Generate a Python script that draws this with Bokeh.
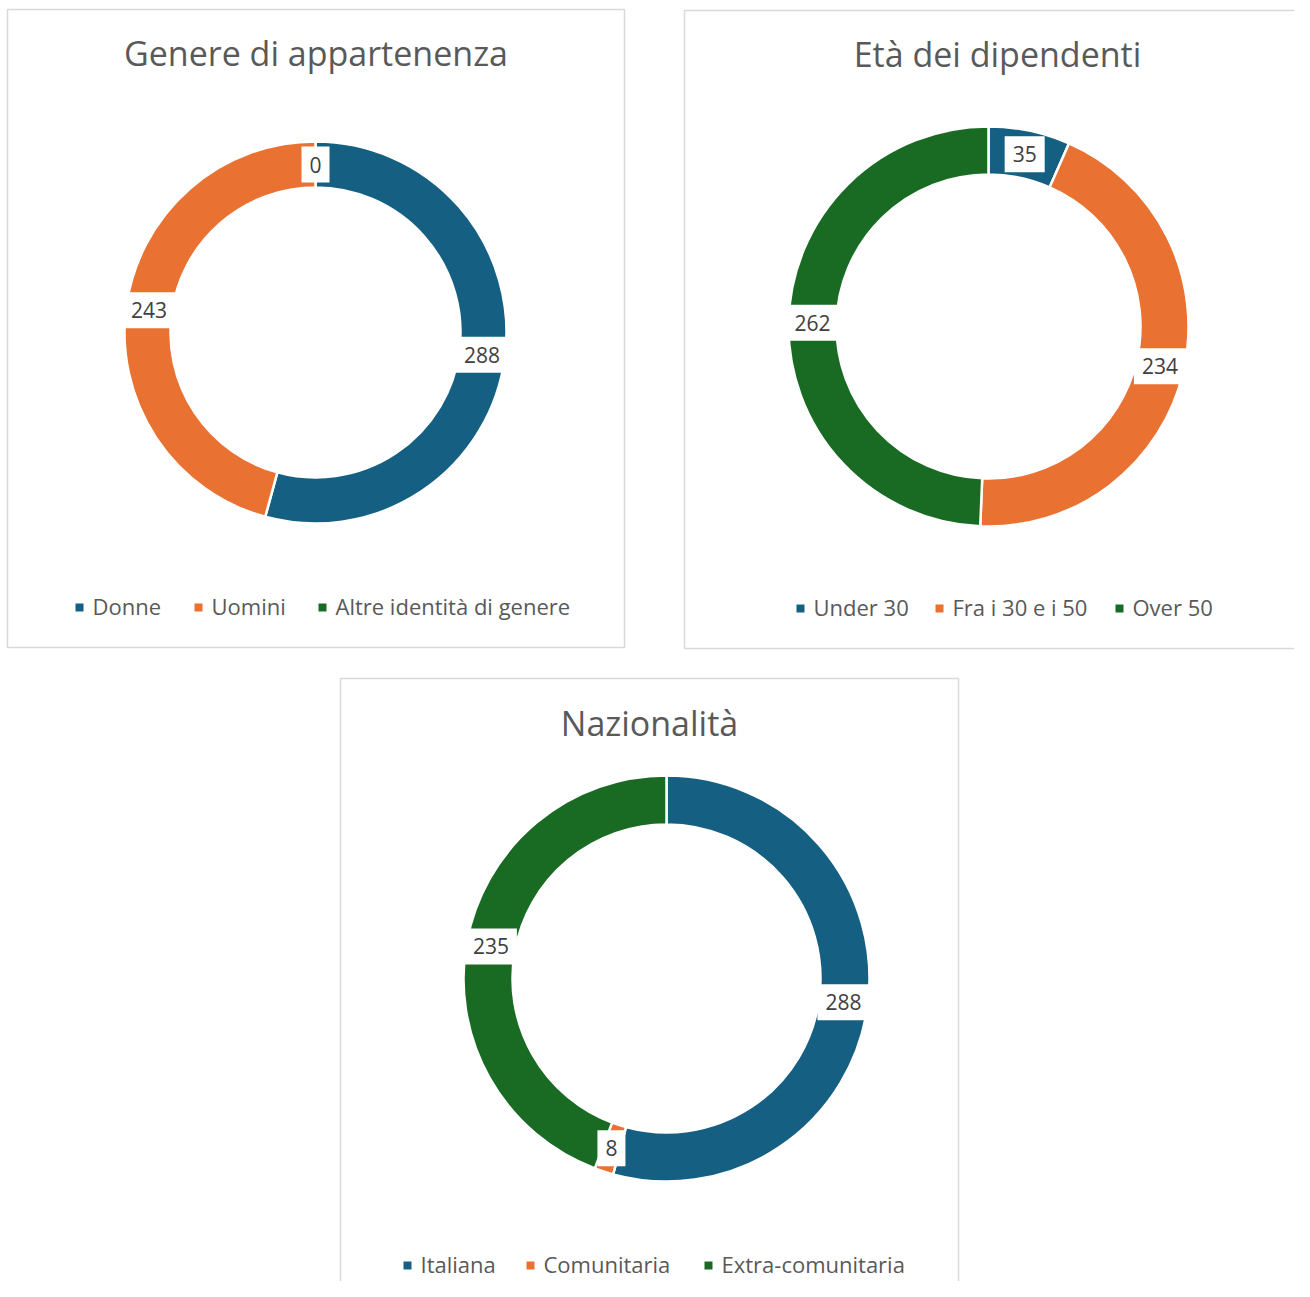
import math
from bokeh.plotting import figure
from bokeh.models import Range1d, ColumnDataSource
from bokeh.core.properties import value
from bokeh.embed import file_html
from bokeh.resources import INLINE

# ---- data ----
gender_title = "Genere di appartenenza"
gender_labels = ["Donne", "Uomini", "Altre identità di genere"]
gender_values = [288, 243, 0]

age_title = "Età dei dipendenti"
age_labels = ["Under 30", "Fra i 30 e i 50", "Over 50"]
age_values = [35, 234, 262]

nat_title = "Nazionalità"
nat_labels = ["Italiana", "Comunitaria", "Extra-comunitaria"]
nat_values = [288, 8, 235]

colors = ["#156082", "#E97132", "#196B24"]

# ---- layout (screen px) ----
FONT = "Open Sans"
TITLE_COLOR = "#595959"
LABEL_COLOR = "#404040"
BORDER = "#D9D9D9"

panels = [
    dict(title=gender_title, labels=gender_labels, values=gender_values,
         box=(7, 624, 9, 647), title_y=52, cx=315, cy=332, r_out=191, r_in=145,
         leg_y=607, leg_x=[79, 198, 322]),
    dict(title=age_title, labels=age_labels, values=age_values,
         box=(684, 1310, 10, 648), title_y=53, cx=988, cy=326, r_out=200, r_in=152,
         leg_y=608, leg_x=[800, 939, 1119]),
    dict(title=nat_title, labels=nat_labels, values=nat_values,
         box=(340, 958, 678, 1310), title_y=722, cx=666, cy=978, r_out=203, r_in=154,
         leg_y=1265, leg_x=[407, 530, 708]),
]

W, H = 1294, 1281
p = figure(width=W, height=H, x_range=Range1d(0, W), y_range=Range1d(-H, 0),
           output_backend="svg", toolbar_location=None, min_border=0,
           outline_line_color=None, background_fill_color="white", border_fill_color="white")
p.axis.visible = False
p.grid.visible = False

def Y(y):
    return -y

for pn in panels:
    l, r, t, b = pn["box"]
    p.quad(left=[l], right=[r], top=[Y(t)], bottom=[Y(b)], fill_color=None,
           line_color=BORDER, line_width=1.5)
    p.text(x=[(l + min(r, 1310)) / 2], y=[Y(pn["title_y"])], text=[pn["title"]],
           text_font=value(FONT), text_font_size="34px", text_color=TITLE_COLOR,
           text_align="center", text_baseline="middle")

    vals = pn["values"]
    total = float(sum(vals))
    cum = 0.0
    ws = dict(x=[], y=[], s=[], e=[], c=[])
    ls = dict(x=[], y=[], t=[])
    rmid = (pn["r_out"] + pn["r_in"]) / 2
    for i, v in enumerate(vals):
        a0 = cum / total * 2 * math.pi
        a1 = (cum + v) / total * 2 * math.pi
        am = (a0 + a1) / 2
        if v > 0:
            ws["x"].append(pn["cx"]); ws["y"].append(Y(pn["cy"]))
            ws["s"].append(math.pi / 2 - a0); ws["e"].append(math.pi / 2 - a1)
            ws["c"].append(colors[i])
        ls["x"].append(pn["cx"] + rmid * math.sin(am))
        ls["y"].append(Y(pn["cy"] - rmid * math.cos(am)))
        ls["t"].append(str(v))
        cum += v
    p.annular_wedge(x="x", y="y", inner_radius=pn["r_in"], outer_radius=pn["r_out"],
                    start_angle="s", end_angle="e", direction="clock",
                    fill_color="c", line_color="white", line_width=2.5,
                    source=ColumnDataSource(ws))
    p.text(x="x", y="y", text="t", source=ColumnDataSource(ls),
           text_font=value(FONT), text_font_size="21px", text_color=LABEL_COLOR,
           text_align="center", text_baseline="middle",
           background_fill_color="white",
           padding=dict(left=8, right=8, top=10, bottom=10))

    # legend
    p.rect(x=pn["leg_x"], y=[Y(pn["leg_y"])] * 3, width=8, height=8,
           fill_color=colors, line_color=None)
    p.text(x=[x + 13 for x in pn["leg_x"]], y=[Y(pn["leg_y"] - 1.5)] * 3, text=pn["labels"],
           text_font=value(FONT), text_font_size="22px", text_color=TITLE_COLOR,
           text_align="left", text_baseline="middle")

open("out.html", "w").write(file_html(p, INLINE))
